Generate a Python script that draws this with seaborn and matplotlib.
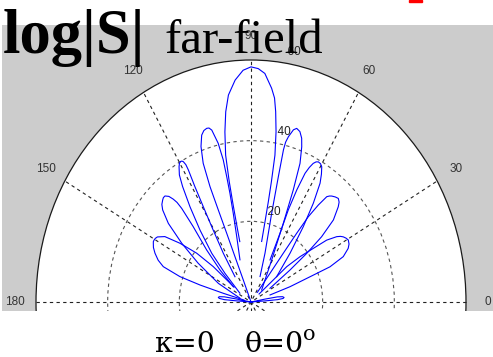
import numpy as np
import pandas as pd
import seaborn as sns
import matplotlib.pyplot as plt
from matplotlib.patches import Circle, Rectangle

# -----------------------------
# 1. Data (angle in degrees, radius = log|S|)
# -----------------------------
main_ang = [78.8, 78.9, 79.0, 79.2, 79.6, 80.6, 81.7, 82.6, 83.8, 86.1, 88.0, 90.0,
            92.2, 94.6, 97.0, 98.5, 99.8, 101.0, 101.5, 101.7, 101.8, 101.8]
main_r = [15.3, 20.3, 25.4, 30.4, 37.0, 42.8, 47.7, 51.0, 53.3, 56.8, 57.9, 58.3,
          57.5, 55.2, 51.7, 47.7, 42.8, 37.1, 30.5, 24.6, 18.7, 15.3]

l1_ang = [106.4, 103.8, 102.7, 102.3, 102.3, 102.4, 103.1, 104.4, 105.2, 106.0,
          107.2, 108.4, 109.9, 111.2, 111.8, 111.8, 111.7, 111.7, 111.5, 111.5]
l1_r = [10.9, 16.7, 22.5, 27.6, 31.8, 36.1, 40.4, 44.0, 44.7, 44.8,
        44.5, 43.6, 41.0, 36.9, 30.8, 24.6, 18.3, 12.1, 5.9, 0.0]

l2_ang = [125.5, 122.6, 120.4, 119.4, 118.7, 118.1, 118.1, 118.5, 118.9, 119.4,
          120.1, 120.9, 122.4, 123.7, 125.8, 128.6, 132.2, 135.6, 144.9]
l2_r = [7.7, 14.3, 21.7, 27.1, 32.6, 37.1, 38.6, 39.6, 39.9, 40.0,
        39.8, 39.1, 37.3, 34.4, 29.1, 22.8, 16.3, 10.2, 3.8]

l3_ang = [142.5, 137.5, 133.8, 130.8, 129.8, 129.9, 130.4, 131.2, 132.4,
          133.4, 134.3, 135.8, 137.2, 139.8, 143.0, 146.9, 153.1, 163.0]
l3_r = [6.2, 11.7, 17.9, 24.7, 30.2, 32.2, 33.5, 34.8, 35.6,
        35.6, 35.3, 34.7, 33.6, 30.2, 24.2, 17.6, 10.2, 3.2]

l4_ang = [142.0, 140.2, 141.4, 143.7, 146.0, 148.3, 149.4, 150.4,
          151.2, 151.9, 153.6, 155.7, 158.2, 160.3, 162.4, 163.5, 164.4, 166.0]
l4_r = [6.0, 13.7, 19.4, 24.6, 29.0, 30.7, 31.0, 31.1,
        31.1, 30.9, 30.4, 29.4, 27.9, 26.0, 20.8, 14.8, 8.0, 2.0]

l5_ang = [169.5, 169.6, 170.2, 171.5, 172.8, 174.2, 175.5, 176.0, 176.0]
l5_r = [0.0, 4.0, 7.5, 8.9, 9.2, 8.9, 7.5, 4.0, 0.0]

r1_ang = [68.2, 72.1, 75.3, 76.2, 76.5, 76.3, 75.7, 74.5, 73.5,
          72.1, 70.8, 69.8, 68.3, 67.0, 65.2, 61.0, 45.0]
r1_r = [6.8, 12.7, 22.7, 32.0, 38.8, 40.8, 42.3, 44.3, 44.9,
        44.4, 43.0, 41.0, 37.0, 30.2, 21.5, 11.9, 4.2]

r2_ang = [63.0, 64.6, 65.5, 65.3, 64.7, 64.0, 63.2, 62.4, 61.6,
          60.5, 59.5, 58.2, 56.8, 54.6, 52.0, 48.0, 41.2]
r2_r = [11.7, 18.9, 25.1, 30.6, 35.3, 37.1, 38.5, 39.2, 39.5,
        39.4, 38.9, 37.3, 35.2, 30.0, 23.7, 16.3, 9.5]

r3_ang = [53.3, 53.3, 53.3, 53.2, 52.9, 52.0, 51.0, 50.2, 49.4, 47.9,
          46.5, 45.2, 44.1, 41.5, 39.4, 37.8, 36.1, 32.7]
r3_r = [3.0, 8.9, 15.1, 21.3, 26.5, 30.5, 33.6, 34.2, 34.6, 35.1,
        35.4, 34.9, 33.9, 30.7, 25.5, 19.7, 13.5, 6.3]

r4_ang = [41.3, 41.3, 41.3, 39.4, 37.4, 36.0, 34.1, 33.1, 32.1, 30.8,
          29.5, 27.7, 26.1, 23.6, 21.6, 20.8, 19.2, 18.2]
r4_r = [3.0, 8.3, 13.3, 17.7, 21.9, 26.1, 28.9, 29.8, 30.4, 30.9,
        31.2, 30.9, 30.2, 28.1, 23.7, 17.6, 11.5, 5.6]

r5_ang = [10.5, 10.4, 9.8, 8.5, 7.0, 5.6, 4.5, 4.0, 4.0]
r5_r = [0.0, 4.0, 7.5, 8.9, 9.3, 9.0, 7.5, 4.0, 0.0]

rings = [20, 40, 60]
spokes = [0, 30, 60, 90, 120, 150, 180]

lobes = {
    "main": (main_ang, main_r),
    "l1": (l1_ang, l1_r), "l2": (l2_ang, l2_r), "l3": (l3_ang, l3_r),
    "l4": (l4_ang, l4_r), "l5": (l5_ang, l5_r),
    "r1": (r1_ang, r1_r), "r2": (r2_ang, r2_r), "r3": (r3_ang, r3_r),
    "r4": (r4_ang, r4_r), "r5": (r5_ang, r5_r),
}

rows = []
for name, (ang, rad) in lobes.items():
    t = np.deg2rad(ang)
    rr = np.array(rad)
    for xx, yy in zip(rr * np.cos(t), rr * np.sin(t)):
        rows.append([name, xx, yy])
df = pd.DataFrame(rows, columns=["lobe", "x", "y"])

rmax = rings[-1]

# -----------------------------
# 2. Figure (MATLAB-like polar plot, stretched vertically)
# -----------------------------
fig = plt.figure(figsize=(4.93, 3.57), dpi=100)
ax = fig.add_axes([2 / 493, 46 / 357, 491 / 493, 286 / 357])
ax.set_facecolor("#cccccc")

ax.add_patch(Circle((0, 0), rmax, fc="white", ec="#1a1a1a", lw=0.9, zorder=1))
for rg in rings[:-1]:
    ax.add_patch(Circle((0, 0), rg, fill=False, ec="#555555", lw=0.8,
                        ls=(0, (3, 3)), zorder=2))
for a in spokes[:-1]:
    t = np.deg2rad(a)
    ax.plot([-rmax * np.cos(t), rmax * np.cos(t)],
            [-rmax * np.sin(t), rmax * np.sin(t)],
            color="#222222", lw=0.8, ls=(0, (3, 3)), zorder=2)

sns.lineplot(data=df, x="x", y="y", units="lobe", estimator=None, sort=False,
             color="#0000ff", lw=0.8, legend=False, ax=ax, zorder=3)

# angle labels
for a in spokes:
    t = np.deg2rad(a)
    ax.text(1.1 * rmax * np.cos(t), 1.1 * rmax * np.sin(t), str(a),
            ha="center", va="center", fontsize=8.5, color="#333333",
            family="Liberation Sans", clip_on=True, zorder=4)
# ring labels (placed at 82 degrees like MATLAB)
c82, s82 = np.cos(np.deg2rad(82)), np.sin(np.deg2rad(82))
for rg in rings:
    ax.text((rg + 1) * c82, (rg + 1) * s82, "  " + str(rg), ha="left",
            va="bottom", fontsize=8.5, color="#222222",
            family="Liberation Sans", zorder=4)

ax.set_xlim((2 - 251) / 3.5833, (493 - 251) / 3.5833)
ax.set_ylim((302 - 311) / 4.0333, (302 - 25) / 4.0333)
ax.set_xticks([])
ax.set_yticks([])
ax.set_xlabel("")
ax.set_ylabel("")
for s in ax.spines.values():
    s.set_visible(False)

# -----------------------------
# 3. Titles
# -----------------------------
fig.text(3 / 493, 1 - 53 / 357, "log|S|", family="Liberation Serif",
         weight="bold", fontsize=45, va="baseline", ha="left")
fig.text(165 / 493, 1 - 53 / 357, "far-field", family="Liberation Serif",
         fontsize=35, va="baseline", ha="left")

fig.text(155 / 493, 1 - 352 / 357, "κ=0", family="DejaVu Serif",
         fontsize=20.5, va="baseline", ha="left")
fig.text(245 / 493, 1 - 352 / 357, "θ=0", family="DejaVu Serif",
         fontsize=20.5, va="baseline", ha="left")
fig.text(303 / 493, 1 - 340 / 357, "o", family="DejaVu Serif",
         fontsize=15, va="baseline", ha="left")

fig.patches.append(Rectangle((409 / 493, 1 - 2 / 357), 13 / 493, 2 / 357,
                             transform=fig.transFigure, color="red"))

fig.savefig("out.png", dpi=100)
plt.close(fig)
